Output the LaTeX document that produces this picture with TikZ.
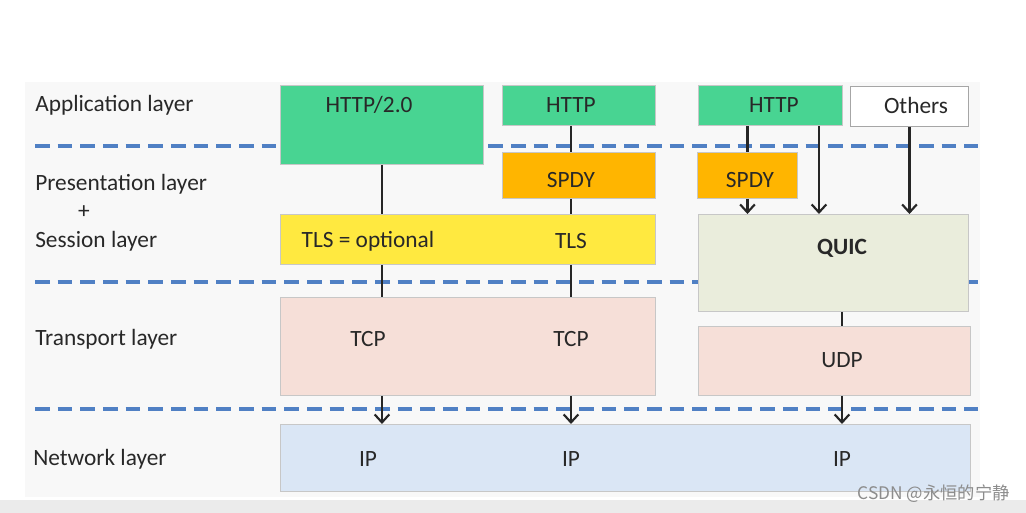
\documentclass[tikz,border=0pt]{standalone}
\usepackage{fontspec}
\setmainfont{Carlito}
\newfontfamily\cjkfont{Noto Sans CJK SC}
\usetikzlibrary{arrows.meta}

\definecolor{appgreen}{RGB}{72,212,146}
\definecolor{spdyorange}{RGB}{255,181,0}
\definecolor{tlsyellow}{RGB}{255,233,64}
\definecolor{tcppink}{RGB}{246,223,216}
\definecolor{quicgray}{RGB}{234,237,220}
\definecolor{ipblue}{RGB}{218,230,245}
\definecolor{dashblue}{RGB}{80,128,196}
\definecolor{panelgray}{RGB}{248,248,248}
\definecolor{textgray}{RGB}{40,40,40}

\tikzset{
  layerbox/.style={draw=black!22, line width=0.7pt, inner sep=0pt, anchor=north west, text=textgray},
  layername/.style={anchor=west, inner sep=0pt, text=textgray},
  boxtext/.style={inner sep=0pt, text=textgray},
  layerline/.style={dashblue, line width=2.6pt, dash pattern=on 11pt off 6pt},
  link/.style={line width=1.8pt, black!85},
  flow/.style={link, -{Straight Barb[length=6pt,width=11pt,line width=1.6pt]}},
}

\begin{document}
\begin{tikzpicture}[x=0.75pt,y=0.75pt,yscale=-1,xscale=1,font=\fontsize{17.5}{20}\selectfont]
\useasboundingbox (0,0) rectangle (1026,513);

% background
\fill[white] (0,0) rectangle (1026,513);
\fill[panelgray] (25,82) rectangle (980,497);
\fill[black!8] (0,500) rectangle (1026,513);

% layer separators
\draw[layerline] (35,146) -- (978,146);
\draw[layerline] (35,282) -- (978,282);
\draw[layerline] (35,409) -- (978,409);

% layer names
\node[layername] (appl) at (35,105) {Application layer};
\node[layername] (pres) at (35,184) {Presentation layer};
\node[boxtext] (plus) at (84,212) {+};
\node[layername] (sess) at (35,241) {Session layer};
\node[layername] (trans) at (35,339) {Transport layer};
\node[layername] (netw) at (33,459) {Network layer};

% column positions
\coordinate (colB) at (571,0);
\coordinate (colC) at (842,0);
\coordinate (colD) at (819,0);

% HTTP/2.0 stack
\node[layerbox, fill=appgreen, minimum width=152.25pt, minimum height=59.25pt] (h2) at (280,85) {};
\node[boxtext] (h2txt) at (369,105) {HTTP/2.0};

% HTTP + SPDY stack
\node[layerbox, fill=appgreen, minimum width=114.75pt, minimum height=30pt] (httpB) at (502,85) {};
\node[boxtext] (httpBtxt) at (571,105) {HTTP};
\node[layerbox, fill=spdyorange, minimum width=114.75pt, minimum height=34.5pt] (spdyB) at (502,152) {};
\node[boxtext] (spdyBtxt) at (571,180) {SPDY};

% TLS, TCP
\node[layerbox, fill=tlsyellow, minimum width=281.25pt, minimum height=37.5pt] (tls) at (280,214) {};
\node[boxtext] (tlsA) at (368,241) {TLS = optional};
\node[boxtext] (tlsB) at (571,241) {TLS};
\node[layerbox, fill=tcppink, minimum width=281.25pt, minimum height=73.5pt] (tcp) at (280,297) {};
\node[boxtext] (tcpA) at (368,339) {TCP};
\node[boxtext] (tcpB) at (571,339) {TCP};

% QUIC stack
\node[layerbox, fill=appgreen, minimum width=108pt, minimum height=30pt] (httpC) at (698,85) {};
\node[boxtext] (httpCtxt) at (774,105) {HTTP};
\node[layerbox, fill=white, draw=black!35, minimum width=88.5pt, minimum height=30pt] (others) at (850,86) {};
\node[boxtext] (otherstxt) at (916,105) {Others};
\node[layerbox, fill=spdyorange, minimum width=75pt, minimum height=34.5pt] (spdyC) at (697,152) {};
\node[boxtext] (spdyCtxt) at (750,180) {SPDY};
\node[layerbox, fill=quicgray, minimum width=202.5pt, minimum height=72.75pt] (quic) at (698,214) {};
\node[boxtext, font=\fontsize{17.5}{20}\selectfont\bfseries] (quictxt) at (842,248) {QUIC};
\node[layerbox, fill=tcppink, minimum width=204pt, minimum height=51.75pt] (udp) at (698,326) {};
\node[boxtext] (udptxt) at (842,360) {UDP};

% IP
\node[layerbox, fill=ipblue, minimum width=517.5pt, minimum height=50.25pt] (ip) at (280,424) {};
\node[boxtext] (ipA) at (368,459) {IP};
\node[boxtext] (ipB) at (571,459) {IP};
\node[boxtext] (ipC) at (842,459) {IP};

% connectors
\draw[link] (h2.south) -- (h2.south |- tls.north);
\draw[link] (tls.south -| h2.south) -- (tcp.north -| h2.south);
\draw[flow] (tcp.south -| h2.south) -- (ip.north -| h2.south);

\draw[link] (httpB.south -| colB) -- (spdyB.north -| colB);
\draw[link] (spdyB.south -| colB) -- (tls.north -| colB);
\draw[link] (tls.south -| colB) -- (tcp.north -| colB);
\draw[flow] (tcp.south -| colB) -- (ip.north -| colB);

\draw[link] (httpC.south -| spdyC.north) -- (spdyC.north);
\draw[flow] (spdyC.south) -- (spdyC.south |- quic.north);
\draw[flow] (httpC.south -| colD) -- (quic.north -| colD);
\draw[flow] (others.south) -- (others.south |- quic.north);
\draw[link] (quic.south -| colC) -- (udp.north -| colC);
\draw[flow] (udp.south -| colC) -- (ip.north -| colC);

% watermark
\node[anchor=east, inner sep=0pt, text=black!45, font=\cjkfont\fontsize{13}{15}\selectfont] (mark) at (1010,494) {CSDN @永恒的宁静};

\end{tikzpicture}
\end{document}
